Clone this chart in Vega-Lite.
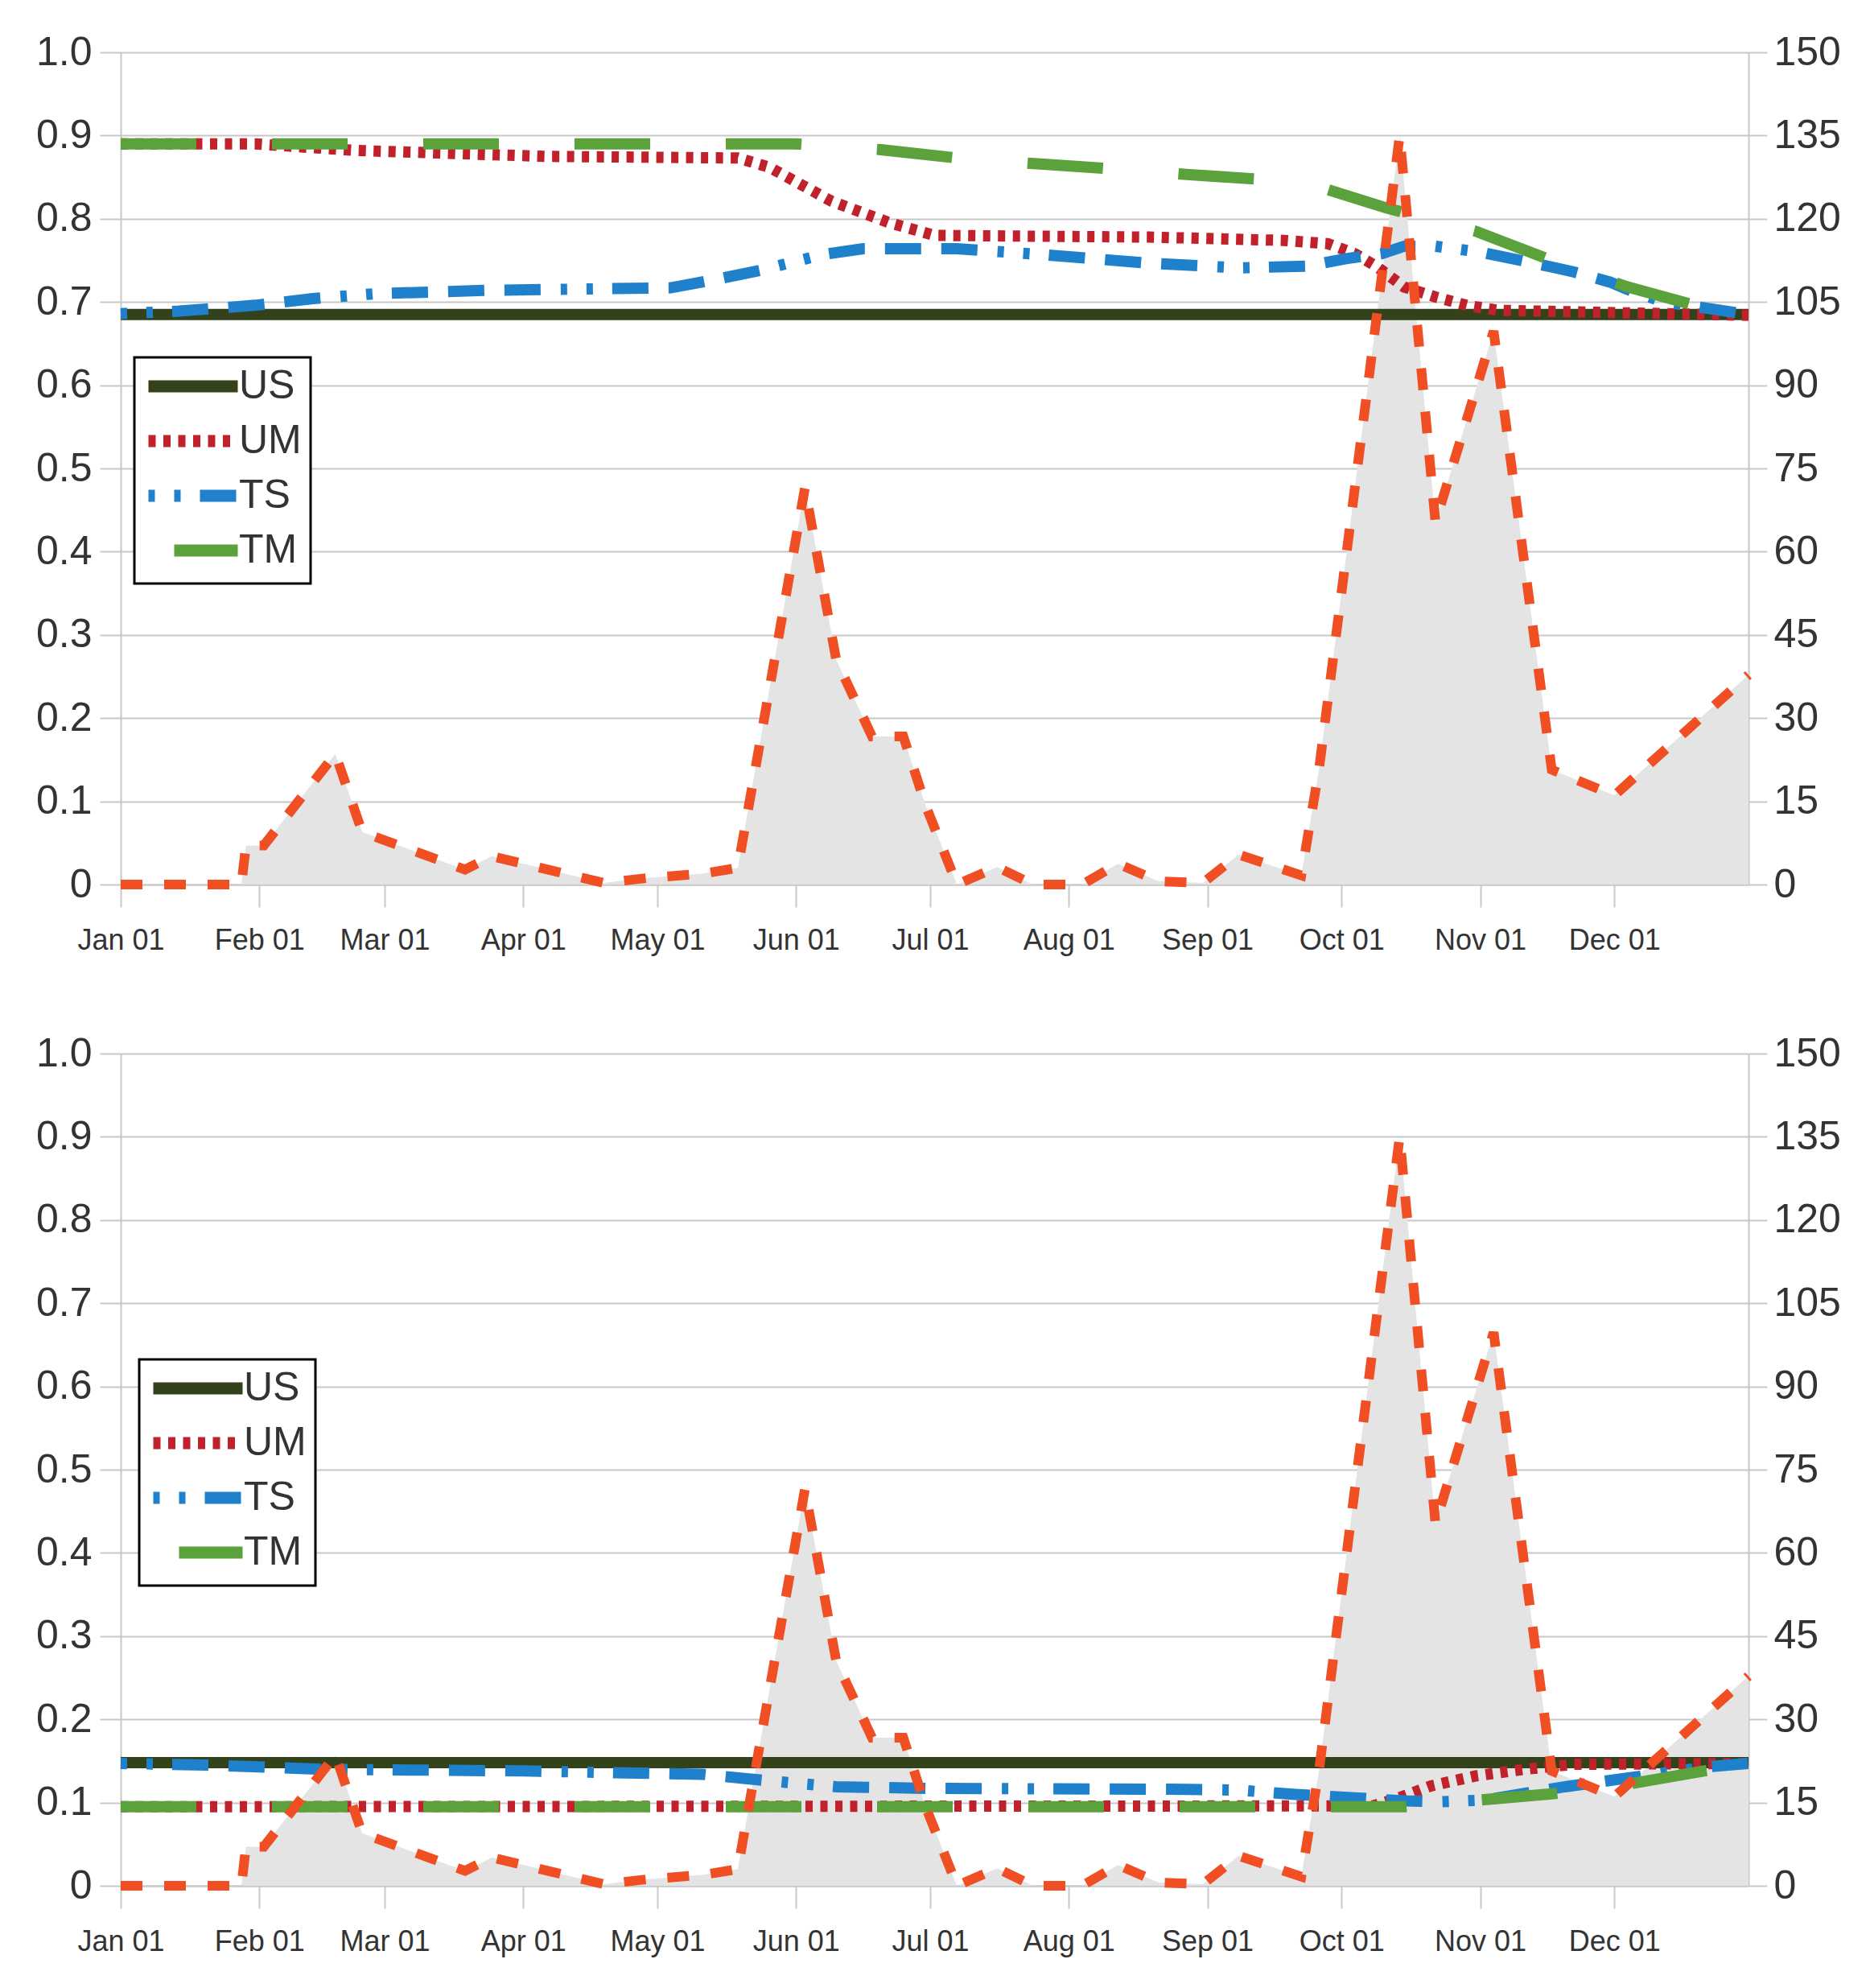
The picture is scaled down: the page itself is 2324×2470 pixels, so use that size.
{
  "$schema": "https://vega.github.io/schema/vega-lite/v6.json",
  "description": "Activity (grey area and orange dashes, right axis) with US, UM, TS, TM (left axis), two panels",
  "background": "white",
  "padding": {"left": 44, "top": 40, "right": 30, "bottom": 20},
  "spacing": 98,
  "config": {
    "font": "Liberation Sans",
    "view": {"stroke": null},
    "axis": {
      "labelFont": "Liberation Sans",
      "labelColor": "#333333",
      "domainColor": "#c8c8c8",
      "domainWidth": 2,
      "tickColor": "#c8c8c8",
      "tickWidth": 2,
      "gridColor": "#c8c8c8",
      "gridWidth": 2,
      "title": null
    },
    "legend": {
      "strokeColor": "#000000",
      "strokeWidth": 3,
      "fillColor": "white",
      "padding": 11,
      "labelFont": "Liberation Sans",
      "labelFontSize": 50,
      "labelColor": "#333333",
      "symbolType": "M-5,0H5",
      "symbolSize": 493,
      "symbolStrokeWidth": 15,
      "symbolOffset": 37,
      "labelOffset": 32,
      "rowPadding": 8
    }
  },
  "datasets": {
    "activity": [
      {"date": "2014-01-01", "v": 0},
      {"date": "2014-01-28", "v": 0},
      {"date": "2014-01-29", "v": 7.05},
      {"date": "2014-02-02", "v": 7.05},
      {"date": "2014-02-18", "v": 23.55},
      {"date": "2014-02-24", "v": 9.45},
      {"date": "2014-03-19", "v": 2.7},
      {"date": "2014-03-25", "v": 5.1},
      {"date": "2014-04-19", "v": 0.3},
      {"date": "2014-04-29", "v": 1.2},
      {"date": "2014-05-11", "v": 1.95},
      {"date": "2014-05-19", "v": 3.0},
      {"date": "2014-06-03", "v": 71.5},
      {"date": "2014-06-10", "v": 40.5},
      {"date": "2014-06-18", "v": 26.7},
      {"date": "2014-06-25", "v": 26.7},
      {"date": "2014-06-30", "v": 14.25},
      {"date": "2014-07-07", "v": 0},
      {"date": "2014-07-16", "v": 3.15},
      {"date": "2014-07-24", "v": 0},
      {"date": "2014-08-04", "v": 0},
      {"date": "2014-08-12", "v": 3.75},
      {"date": "2014-08-21", "v": 0.6},
      {"date": "2014-08-31", "v": 0.3},
      {"date": "2014-09-08", "v": 5.4},
      {"date": "2014-09-22", "v": 1.65},
      {"date": "2014-09-26", "v": 21},
      {"date": "2014-10-14", "v": 135},
      {"date": "2014-10-22", "v": 65.25},
      {"date": "2014-11-04", "v": 99.75},
      {"date": "2014-11-17", "v": 20.7},
      {"date": "2014-12-01", "v": 16.05},
      {"date": "2014-12-31", "v": 37.8}
    ],
    "top": [
      {"series": "US", "date": "2014-01-01", "value": 0.685},
      {"series": "US", "date": "2014-12-31", "value": 0.685},
      {"series": "UM", "date": "2014-01-01", "value": 0.89},
      {"series": "UM", "date": "2014-01-31", "value": 0.89},
      {"series": "UM", "date": "2014-02-23", "value": 0.882},
      {"series": "UM", "date": "2014-03-13", "value": 0.879},
      {"series": "UM", "date": "2014-04-06", "value": 0.875},
      {"series": "UM", "date": "2014-05-19", "value": 0.873},
      {"series": "UM", "date": "2014-05-26", "value": 0.862},
      {"series": "UM", "date": "2014-06-09", "value": 0.821},
      {"series": "UM", "date": "2014-06-22", "value": 0.795},
      {"series": "UM", "date": "2014-07-02", "value": 0.78},
      {"series": "UM", "date": "2014-08-19", "value": 0.778},
      {"series": "UM", "date": "2014-09-18", "value": 0.774},
      {"series": "UM", "date": "2014-09-28", "value": 0.77},
      {"series": "UM", "date": "2014-10-04", "value": 0.758},
      {"series": "UM", "date": "2014-10-09", "value": 0.742},
      {"series": "UM", "date": "2014-10-15", "value": 0.718},
      {"series": "UM", "date": "2014-10-22", "value": 0.706},
      {"series": "UM", "date": "2014-10-29", "value": 0.696},
      {"series": "UM", "date": "2014-11-05", "value": 0.69},
      {"series": "UM", "date": "2014-12-31", "value": 0.684},
      {"series": "TS", "date": "2014-01-01", "value": 0.686},
      {"series": "TS", "date": "2014-01-14", "value": 0.689},
      {"series": "TS", "date": "2014-01-31", "value": 0.696},
      {"series": "TS", "date": "2014-02-13", "value": 0.704},
      {"series": "TS", "date": "2014-02-27", "value": 0.71},
      {"series": "TS", "date": "2014-03-24", "value": 0.714},
      {"series": "TS", "date": "2014-05-04", "value": 0.717},
      {"series": "TS", "date": "2014-05-13", "value": 0.726},
      {"series": "TS", "date": "2014-05-24", "value": 0.738},
      {"series": "TS", "date": "2014-06-07", "value": 0.757},
      {"series": "TS", "date": "2014-06-16", "value": 0.764},
      {"series": "TS", "date": "2014-07-07", "value": 0.764},
      {"series": "TS", "date": "2014-07-26", "value": 0.757},
      {"series": "TS", "date": "2014-08-18", "value": 0.747},
      {"series": "TS", "date": "2014-09-08", "value": 0.741},
      {"series": "TS", "date": "2014-09-23", "value": 0.743},
      {"series": "TS", "date": "2014-10-02", "value": 0.752},
      {"series": "TS", "date": "2014-10-10", "value": 0.758},
      {"series": "TS", "date": "2014-10-15", "value": 0.767},
      {"series": "TS", "date": "2014-10-22", "value": 0.767},
      {"series": "TS", "date": "2014-11-01", "value": 0.76},
      {"series": "TS", "date": "2014-11-10", "value": 0.75},
      {"series": "TS", "date": "2014-11-17", "value": 0.742},
      {"series": "TS", "date": "2014-11-22", "value": 0.736},
      {"series": "TS", "date": "2014-11-30", "value": 0.724},
      {"series": "TS", "date": "2014-12-04", "value": 0.715},
      {"series": "TS", "date": "2014-12-12", "value": 0.7},
      {"series": "TS", "date": "2014-12-21", "value": 0.693},
      {"series": "TS", "date": "2014-12-31", "value": 0.685},
      {"series": "TM", "date": "2014-01-01", "value": 0.89},
      {"series": "TM", "date": "2014-06-01", "value": 0.89},
      {"series": "TM", "date": "2014-06-20", "value": 0.883},
      {"series": "TM", "date": "2014-07-07", "value": 0.873},
      {"series": "TM", "date": "2014-07-25", "value": 0.866},
      {"series": "TM", "date": "2014-08-11", "value": 0.86},
      {"series": "TM", "date": "2014-08-28", "value": 0.853},
      {"series": "TM", "date": "2014-09-14", "value": 0.847},
      {"series": "TM", "date": "2014-09-25", "value": 0.84},
      {"series": "TM", "date": "2014-10-11", "value": 0.813},
      {"series": "TM", "date": "2014-10-31", "value": 0.785},
      {"series": "TM", "date": "2014-11-17", "value": 0.75},
      {"series": "TM", "date": "2014-12-04", "value": 0.718},
      {"series": "TM", "date": "2014-12-21", "value": 0.693},
      {"series": "TM", "date": "2014-12-31", "value": 0.685}
    ],
    "bottom": [
      {"series": "US", "date": "2014-01-01", "value": 0.148},
      {"series": "US", "date": "2014-12-31", "value": 0.148},
      {"series": "UM", "date": "2014-01-01", "value": 0.095},
      {"series": "UM", "date": "2014-10-08", "value": 0.096},
      {"series": "UM", "date": "2014-10-13", "value": 0.104},
      {"series": "UM", "date": "2014-10-21", "value": 0.12},
      {"series": "UM", "date": "2014-10-31", "value": 0.132},
      {"series": "UM", "date": "2014-11-11", "value": 0.14},
      {"series": "UM", "date": "2014-11-22", "value": 0.146},
      {"series": "UM", "date": "2014-12-31", "value": 0.147},
      {"series": "TS", "date": "2014-01-01", "value": 0.147},
      {"series": "TS", "date": "2014-01-21", "value": 0.145},
      {"series": "TS", "date": "2014-02-15", "value": 0.14},
      {"series": "TS", "date": "2014-04-01", "value": 0.138},
      {"series": "TS", "date": "2014-05-11", "value": 0.134},
      {"series": "TS", "date": "2014-05-26", "value": 0.126},
      {"series": "TS", "date": "2014-06-10", "value": 0.119},
      {"series": "TS", "date": "2014-07-01", "value": 0.117},
      {"series": "TS", "date": "2014-08-24", "value": 0.116},
      {"series": "TS", "date": "2014-09-08", "value": 0.115},
      {"series": "TS", "date": "2014-09-20", "value": 0.11},
      {"series": "TS", "date": "2014-10-03", "value": 0.106},
      {"series": "TS", "date": "2014-10-15", "value": 0.102},
      {"series": "TS", "date": "2014-10-23", "value": 0.101},
      {"series": "TS", "date": "2014-11-02", "value": 0.103},
      {"series": "TS", "date": "2014-11-20", "value": 0.119},
      {"series": "TS", "date": "2014-11-28", "value": 0.125},
      {"series": "TS", "date": "2014-12-22", "value": 0.143},
      {"series": "TS", "date": "2014-12-31", "value": 0.147},
      {"series": "TM", "date": "2014-01-01", "value": 0.095},
      {"series": "TM", "date": "2014-10-15", "value": 0.095},
      {"series": "TM", "date": "2014-11-01", "value": 0.103},
      {"series": "TM", "date": "2014-11-18", "value": 0.111},
      {"series": "TM", "date": "2014-12-04", "value": 0.122},
      {"series": "TM", "date": "2014-12-21", "value": 0.138},
      {"series": "TM", "date": "2014-12-31", "value": 0.145}
    ]
  },
  "resolve": {"scale": {"color": "independent", "strokeDash": "independent"}},
  "vconcat": [
    {
      "width": 2023,
      "height": 1034,
      "resolve": {"scale": {"y": "independent"}},
      "encoding": {
        "x": {"field": "date", "type": "temporal",
          "scale": {"type": "utc", "nice": false, "domain": [{"year": 2014, "month": 1, "date": 1, "utc": true}, {"year": 2014, "month": 12, "date": 31, "utc": true}]},
          "axis": {"orient": "bottom", "labelExpr": "utcFormat(datum.value, '%b %d')", "tickCount": {"interval": "month", "step": 1}, "grid": false, "tickSize": 28, "labelFontSize": 36, "labelPadding": 24, "labelFlush": false, "labelOverlap": false}}
      },
      "layer": [
        {
          "data": {"name": "activity"},
          "mark": {"type": "area", "color": "#e5e4e4"},
          "encoding": {
            "y": {"field": "v", "type": "quantitative",
              "scale": {"domain": [0, 150], "nice": false},
              "axis": {"orient": "right", "values": [0, 15, 30, 45, 60, 75, 90, 105, 120, 135, 150], "grid": false, "tickSize": 23, "labelFontSize": 50, "labelPadding": 8}}
          }
        },
        {
          "data": {"name": "top"},
          "mark": {"type": "line", "strokeWidth": 14},
          "encoding": {
            "y": {"field": "value", "type": "quantitative",
              "scale": {"domain": [0, 1], "nice": false},
              "axis": {"orient": "left", "values": [0, 0.1, 0.2, 0.3, 0.4, 0.5, 0.6, 0.7, 0.8, 0.9, 1.0], "labelExpr": "datum.value == 0 ? '0' : format(datum.value, '.1f')", "grid": true, "tickSize": 26, "labelFontSize": 50, "labelPadding": 10}},
            "color": {"field": "series", "type": "nominal",
              "scale": {"domain": ["US", "UM", "TS", "TM"], "range": ["#34421c", "#c0212b", "#1f80cc", "#5ba13c"]},
              "legend": {"title": null, "orient": "none", "legendX": 17, "legendY": 379,
                "encode": {"symbols": {"update": {"strokeDashOffset": {"signal": "datum.value === 'TM' ? 156 : 0"}}}}}},
            "strokeDash": {"field": "series", "type": "nominal",
              "scale": {"domain": ["US", "UM", "TS", "TM"], "range": [[1, 0], [9, 9.5], [8, 24, 8, 24, 45, 25, 45, 25, 45, 25], [94, 94]]},
              "legend": {"title": null, "orient": "none", "legendX": 17, "legendY": 379}}
          }
        },
        {
          "data": {"name": "activity"},
          "mark": {"type": "line", "color": "#f04e23", "strokeWidth": 12, "strokeDash": [27, 27]},
          "encoding": {
            "y": {"field": "v", "type": "quantitative", "scale": {"domain": [0, 150], "nice": false}, "axis": null}
          }
        }
      ]
    },
    {
      "width": 2023,
      "height": 1034,
      "resolve": {"scale": {"y": "independent"}},
      "encoding": {
        "x": {"field": "date", "type": "temporal",
          "scale": {"type": "utc", "nice": false, "domain": [{"year": 2014, "month": 1, "date": 1, "utc": true}, {"year": 2014, "month": 12, "date": 31, "utc": true}]},
          "axis": {"orient": "bottom", "labelExpr": "utcFormat(datum.value, '%b %d')", "tickCount": {"interval": "month", "step": 1}, "grid": false, "tickSize": 28, "labelFontSize": 36, "labelPadding": 24, "labelFlush": false, "labelOverlap": false}}
      },
      "layer": [
        {
          "data": {"name": "activity"},
          "mark": {"type": "area", "color": "#e5e4e4"},
          "encoding": {
            "y": {"field": "v", "type": "quantitative",
              "scale": {"domain": [0, 150], "nice": false},
              "axis": {"orient": "right", "values": [0, 15, 30, 45, 60, 75, 90, 105, 120, 135, 150], "grid": false, "tickSize": 23, "labelFontSize": 50, "labelPadding": 8}}
          }
        },
        {
          "data": {"name": "bottom"},
          "mark": {"type": "line", "strokeWidth": 14},
          "encoding": {
            "y": {"field": "value", "type": "quantitative",
              "scale": {"domain": [0, 1], "nice": false},
              "axis": {"orient": "left", "values": [0, 0.1, 0.2, 0.3, 0.4, 0.5, 0.6, 0.7, 0.8, 0.9, 1.0], "labelExpr": "datum.value == 0 ? '0' : format(datum.value, '.1f')", "grid": true, "tickSize": 26, "labelFontSize": 50, "labelPadding": 10}},
            "color": {"field": "series", "type": "nominal",
              "scale": {"domain": ["US", "UM", "TS", "TM"], "range": ["#34421c", "#c0212b", "#1f80cc", "#5ba13c"]},
              "legend": {"title": null, "orient": "none", "legendX": 23, "legendY": 380,
                "encode": {"symbols": {"update": {"strokeDashOffset": {"signal": "datum.value === 'TM' ? 156 : 0"}}}}}},
            "strokeDash": {"field": "series", "type": "nominal",
              "scale": {"domain": ["US", "UM", "TS", "TM"], "range": [[1, 0], [9, 9.5], [8, 24, 8, 24, 45, 25, 45, 25, 45, 25], [94, 94]]},
              "legend": {"title": null, "orient": "none", "legendX": 23, "legendY": 380}}
          }
        },
        {
          "data": {"name": "activity"},
          "mark": {"type": "line", "color": "#f04e23", "strokeWidth": 12, "strokeDash": [27, 27]},
          "encoding": {
            "y": {"field": "v", "type": "quantitative", "scale": {"domain": [0, 150], "nice": false}, "axis": null}
          }
        }
      ]
    }
  ]
}
